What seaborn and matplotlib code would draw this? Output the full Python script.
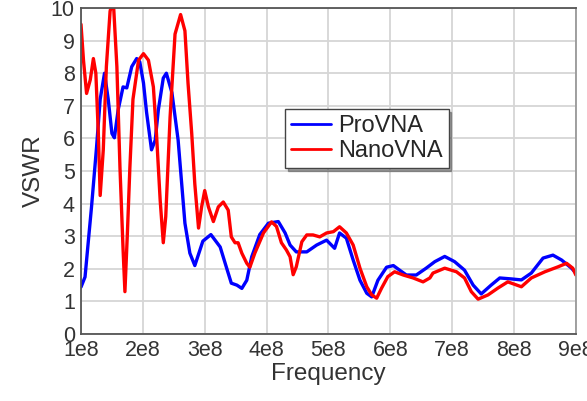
import matplotlib
matplotlib.use("Agg")
import matplotlib.pyplot as plt
import seaborn as sns
import pandas as pd
import numpy as np

# Frequency in units of 1e8 Hz, VSWR values
pro_freq = [1.00, 1.065, 1.12, 1.17, 1.25, 1.31, 1.38, 1.44, 1.50, 1.54, 1.60, 1.68, 1.74, 1.82, 1.90,
            1.95, 2.01, 2.06, 2.14, 2.20, 2.25, 2.33, 2.38, 2.47, 2.57, 2.68, 2.76, 2.84, 2.97, 3.10,
            3.25, 3.35, 3.43, 3.52, 3.60, 3.68, 3.76, 3.89, 4.03, 4.19, 4.30, 4.38, 4.48, 4.65, 4.81,
            4.97, 5.10, 5.18, 5.29, 5.40, 5.51, 5.62, 5.70, 5.80, 5.94, 6.05, 6.15, 6.26, 6.42, 6.58,
            6.72, 6.88, 7.04, 7.20, 7.34, 7.47, 7.63, 7.77, 7.96, 8.12, 8.28, 8.47, 8.63, 8.77, 8.93, 9.00]
pro_vswr = [1.44, 1.75, 2.88, 3.9, 5.7, 7.2, 8.0, 7.2, 6.15, 6.02, 6.87, 7.58, 7.55, 8.2, 8.45,
            8.35, 7.7, 6.8, 5.65, 5.95, 6.87, 7.85, 8.0, 7.4, 5.95, 3.4, 2.48, 2.1, 2.85, 3.05,
            2.67, 2.05, 1.56, 1.5, 1.4, 1.65, 2.37, 3.05, 3.4, 3.45, 3.1, 2.73, 2.52, 2.52, 2.73,
            2.88, 2.63, 3.1, 2.94, 2.27, 1.65, 1.25, 1.14, 1.65, 2.05, 2.1, 1.96, 1.81, 1.81, 2.02,
            2.22, 2.38, 2.22, 1.96, 1.5, 1.23, 1.5, 1.72, 1.69, 1.66, 1.87, 2.33, 2.42, 2.27, 2.02, 1.87]

nano_freq = [1.00, 1.04, 1.09, 1.15, 1.20, 1.24, 1.28, 1.31, 1.36, 1.41, 1.47, 1.52, 1.58, 1.63, 1.68,
             1.71, 1.75, 1.79, 1.84, 1.93, 2.01, 2.09, 2.17, 2.22, 2.28, 2.33, 2.37, 2.44, 2.52, 2.61,
             2.68, 2.73, 2.79, 2.84, 2.90, 2.95, 3.00, 3.06, 3.14, 3.22, 3.30, 3.38, 3.43, 3.49, 3.54,
             3.60, 3.68, 3.73, 3.81, 3.95, 4.08, 4.16, 4.24, 4.32, 4.38, 4.43, 4.48, 4.57, 4.65, 4.75,
             4.86, 4.97, 5.08, 5.18, 5.29, 5.40, 5.51, 5.62, 5.70, 5.78, 5.86, 5.96, 6.07, 6.21, 6.37,
             6.53, 6.64, 6.69, 6.88, 7.07, 7.20, 7.31, 7.42, 7.58, 7.74, 7.90, 8.12, 8.28, 8.50, 8.71,
             8.85, 8.95, 9.00]
nano_vswr = [9.5, 8.4, 7.38, 7.8, 8.45, 8.0, 6.15, 4.25, 5.65, 8.2, 9.9, 10.3, 8.2, 5.1, 2.6,
             1.3, 3.1, 5.1, 7.2, 8.4, 8.6, 8.4, 7.58, 6.15, 4.1, 2.8, 3.6, 6.65, 9.2, 9.8,
             9.3, 7.7, 6.15, 4.6, 3.25, 3.9, 4.4, 3.9, 3.45, 3.9, 4.05, 3.8, 2.98, 2.8, 2.8,
             2.48, 2.17, 2.05, 2.48, 3.1, 3.44, 3.3, 2.8, 2.58, 2.37, 1.82, 2.06, 2.83, 3.04, 3.04,
             2.98, 3.1, 3.14, 3.29, 3.1, 2.73, 2.02, 1.45, 1.2, 1.1, 1.41, 1.76, 1.91, 1.81, 1.72,
             1.6, 1.72, 1.87, 2.02, 1.91, 1.72, 1.3, 1.07, 1.2, 1.41, 1.6, 1.45, 1.72, 1.91, 2.06,
             2.17, 2.02, 1.81]

x_ticks = [1, 2, 3, 4, 5, 6, 7, 8, 9]
x_tick_labels = ["1e8", "2e8", "3e8", "4e8", "5e8", "6e8", "7e8", "8e8", "9e8"]
y_ticks = list(range(0, 11))

df = pd.concat([
    pd.DataFrame({"freq": np.array(pro_freq) * 1e8, "vswr": pro_vswr, "device": "ProVNA"}),
    pd.DataFrame({"freq": np.array(nano_freq) * 1e8, "vswr": nano_vswr, "device": "NanoVNA"}),
], ignore_index=True)

sns.set_style("white")
plt.rcParams["font.family"] = ["Liberation Sans", "DejaVu Sans"]

fig = plt.figure(figsize=(5.87, 4.01), dpi=100)
ax = fig.add_axes([0.138, 0.167, 0.843, 0.813])

sns.lineplot(data=df, x="freq", y="vswr", hue="device",
             palette={"ProVNA": "#0000ff", "NanoVNA": "#ff0000"},
             estimator=None, sort=False, linewidth=2.4, ax=ax, legend=True)

ax.set_xlim(1e8, 9e8)
ax.set_ylim(0, 10)
ax.set_xticks([t * 1e8 for t in x_ticks])
ax.set_xticklabels(x_tick_labels)
ax.set_yticks(y_ticks)
ax.tick_params(axis="both", labelsize=15.5, colors="#333333", direction="inout",
               length=7, width=1.2, pad=1)
ax.grid(True, color="#d6d6d6", linewidth=1.3)
ax.set_axisbelow(True)
ax.set_xlabel("Frequency", fontsize=17.5, color="#333333", labelpad=1)
ax.set_ylabel("VSWR", fontsize=17.5, color="#333333", labelpad=4)

for side in ["left", "bottom", "top"]:
    ax.spines[side].set_color("#555555")
    ax.spines[side].set_linewidth(1.3)
ax.spines["right"].set_color("#999999")
ax.spines["right"].set_linewidth(1.3)

handles, labels = ax.get_legend_handles_labels()
leg = ax.legend(handles, labels, loc="upper left", bbox_to_anchor=(0.412, 0.69),
                borderaxespad=0, fontsize=17, frameon=True, fancybox=False, shadow=True,
                handlelength=1.7, handletextpad=0.3, labelspacing=0.12, borderpad=0.25)
leg.get_frame().set_edgecolor("#444444")
leg.get_frame().set_linewidth(1.0)
for line in leg.get_lines():
    line.set_linewidth(2.0)

fig.savefig("out.png", dpi=100, facecolor="white")
